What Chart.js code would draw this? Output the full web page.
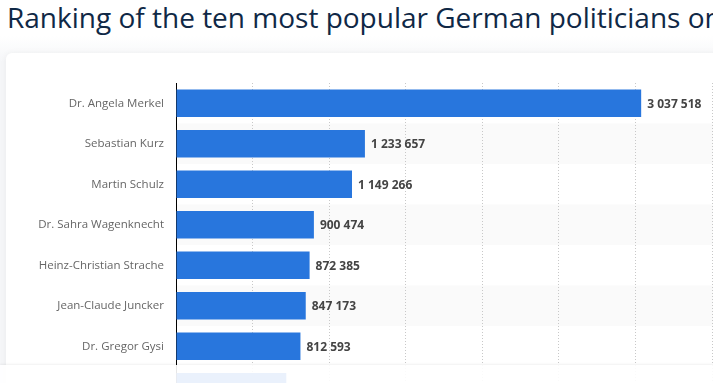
<!DOCTYPE html>
<html>
<head>
<meta charset="utf-8">
<script src="https://cdn.jsdelivr.net/npm/chart.js@4"></script>
<style>
  html, body { margin: 0; padding: 0; }
  body {
    width: 713px; height: 383px; overflow: hidden; position: relative;
    background: linear-gradient(#ffffff 0, #ffffff 36px, #f5f6f8 62px, #f5f6f8 100%);
    font-family: "Open Sans", sans-serif;
  }
  #title {
    position: absolute; left: 7px; top: -3px; white-space: nowrap;
    font-size: 28px; color: #0f2846; line-height: 40px;
  }
  #card {
    position: absolute; left: 6px; top: 53px; width: 800px; height: 400px;
    background: #fff; border-radius: 6px; box-shadow: 0 0 6px rgba(0,0,0,0.05);
  }
  #wrap { position: absolute; left: 0; top: 0; width: 800px; height: 430px; }
  #fade {
    position: absolute; left: 0; top: 365px; width: 800px; height: 60px;
    background: rgba(255,255,255,0.9); box-shadow: 0 -1px 2px rgba(0,0,0,0.06);
  }
</style>
</head>
<body>
<div id="title">Ranking of the ten most popular German politicians on Facebook</div>
<div id="card"></div>
<div id="wrap"><canvas id="chart"></canvas></div>
<div id="fade"></div>
<script>
const politicians = [
  'Dr. Angela Merkel',
  'Sebastian Kurz',
  'Martin Schulz',
  'Dr. Sahra Wagenknecht',
  'Heinz-Christian Strache',
  'Jean-Claude Juncker',
  'Dr. Gregor Gysi',
  '',
];

const fans = [3037518, 1233657, 1149266, 900474, 872385, 847173, 812593, 720000];

const X_MAX = 3500000;
const X_STEP = 500000;

const formatNumber = n => String(n).replace(/\B(?=(\d{3})+(?!\d))/g, ' ');

// light stripes on every second row, under the grid
const rowStripes = {
  id: 'rowStripes',
  beforeDraw(chart) {
    const { ctx, chartArea, scales } = chart;
    const y = scales.y;
    const pitch = y.getPixelForValue(1) - y.getPixelForValue(0);
    ctx.save();
    ctx.fillStyle = '#fafafa';
    politicians.forEach((_, i) => {
      if (i % 2 == 0) return;
      const c = y.getPixelForValue(i);
      ctx.fillRect(chartArea.left, c - pitch / 2, chartArea.right + 100 - chartArea.left, pitch);
    });
    ctx.restore();
  },
};

// value next to each bar (the faded last row has no readable label)
const valueLabels = {
  id: 'valueLabels',
  afterDatasetsDraw(chart) {
    const { ctx } = chart;
    const meta = chart.getDatasetMeta(0);
    ctx.save();
    ctx.font = 'bold 12px "Open Sans"';
    ctx.fillStyle = '#444';
    ctx.textBaseline = 'middle';
    meta.data.forEach((bar, i) => {
      if (!politicians[i]) return;
      ctx.fillText(formatNumber(fans[i]), bar.x + 6, bar.y + 1);
    });
    ctx.restore();
  },
};

new Chart(document.getElementById('chart'), {
  type: 'bar',
  data: {
    labels: politicians,
    datasets: [{
      data: fans,
      backgroundColor: '#2876dd',
      categoryPercentage: 1,
      barPercentage: 0.685,
    }],
  },
  options: {
    indexAxis: 'y',
    responsive: true,
    maintainAspectRatio: false,
    animation: false,
    layout: { padding: { top: 83, right: 88, bottom: 23, left: 0 } },
    plugins: {
      legend: { display: false },
      tooltip: { enabled: false },
    },
    scales: {
      x: {
        min: 0,
        max: X_MAX,
        ticks: { display: false, stepSize: X_STEP },
        grid: { color: '#c8c8c8', drawTicks: false },
        border: { display: false, dash: [1, 2] },
      },
      y: {
        afterFit(scale) { scale.width = 176; },
        ticks: { color: '#666', font: { family: 'Open Sans', size: 11.5 }, padding: 12 },
        grid: { display: false, drawTicks: false },
        border: { display: true, color: '#000', width: 1 },
      },
    },
  },
  plugins: [rowStripes, valueLabels],
});
</script>
</body>
</html>
